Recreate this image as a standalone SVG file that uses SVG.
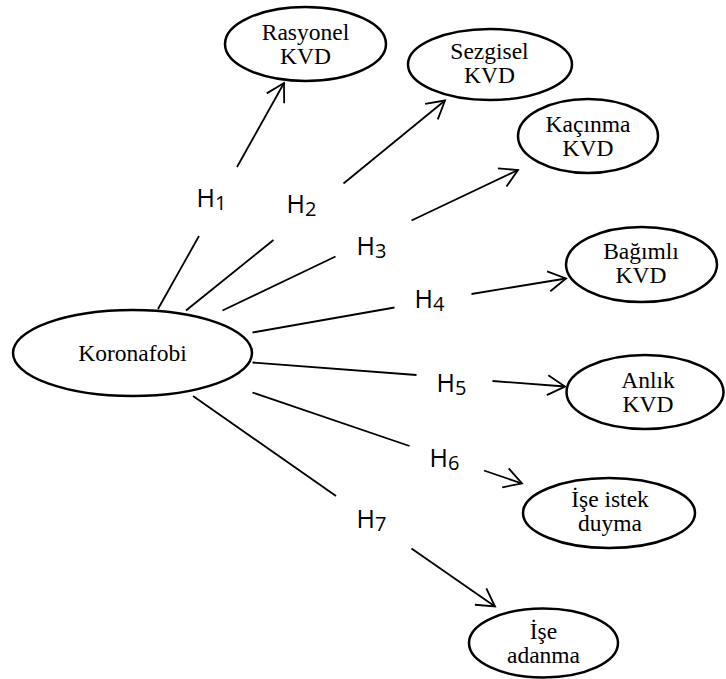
<svg xmlns="http://www.w3.org/2000/svg" width="726" height="679" viewBox="0 0 726 679">
<style>
.node ellipse{fill:#fff;stroke:#000;stroke-width:2.5}
.node text{font-family:"Liberation Serif","Times New Roman",serif;font-size:23.5px;text-anchor:middle;fill:#000}
#connectors line{stroke:#000;stroke-width:1.8;fill:none}
.lbl{font-family:"Open Sans","Liberation Sans",sans-serif;font-size:25px;fill:#000}
.lbl tspan{font-size:20px}
</style>
<defs>
<marker id="arr" markerUnits="userSpaceOnUse" viewBox="-20 -11 22 22" refX="0" refY="0" markerWidth="22" markerHeight="22" orient="auto" overflow="visible">
<path d="M-17.5,-10 L0,0 L-17.5,10" fill="none" stroke="#000" stroke-width="1.8"/>
</marker>
</defs>
<g id="connectors">
<line x1="158" y1="309" x2="199" y2="236"/>
<line x1="237" y1="167" x2="284" y2="83" marker-end="url(#arr)"/>
<line x1="186" y1="310.5" x2="273.5" y2="240"/>
<line x1="343.5" y1="183.5" x2="445" y2="100.5" marker-end="url(#arr)"/>
<line x1="222.5" y1="310.5" x2="335.5" y2="256.5"/>
<line x1="411.5" y1="220.5" x2="518" y2="170" marker-end="url(#arr)"/>
<line x1="252.5" y1="332.5" x2="394.5" y2="307.5"/>
<line x1="471.5" y1="294" x2="566" y2="278.5" marker-end="url(#arr)"/>
<line x1="252.5" y1="362.5" x2="416.5" y2="375"/>
<line x1="492.5" y1="381" x2="565" y2="386.5" marker-end="url(#arr)"/>
<line x1="252.5" y1="392.5" x2="409.5" y2="446"/>
<line x1="484" y1="470.5" x2="522" y2="483.5" marker-end="url(#arr)"/>
<line x1="193" y1="396" x2="336" y2="496"/>
<line x1="411.5" y1="548.5" x2="495" y2="606.5" marker-end="url(#arr)"/>
<text class="lbl" x="196.5" y="207">H<tspan dy="3">1</tspan></text>
<text class="lbl" x="286.5" y="212.5">H<tspan dy="3">2</tspan></text>
<text class="lbl" x="356.5" y="255">H<tspan dy="3">3</tspan></text>
<text class="lbl" x="414.5" y="308">H<tspan dy="3">4</tspan></text>
<text class="lbl" x="436.5" y="391.5">H<tspan dy="3">5</tspan></text>
<text class="lbl" x="429.5" y="466.5">H<tspan dy="3">6</tspan></text>
<text class="lbl" x="356.5" y="528">H<tspan dy="3">7</tspan></text>
</g>
<g id="koronafobi" class="node">
<ellipse cx="132.5" cy="353" rx="119.5" ry="43"/>
<text x="132.5" y="361">Koronafobi</text>
</g>
<g id="rasyonel" class="node">
<ellipse cx="305.5" cy="44" rx="80.5" ry="37"/>
<text x="305.5" y="39.5">Rasyonel</text>
<text x="305.5" y="63.5">KVD</text>
</g>
<g id="sezgisel" class="node">
<ellipse cx="490" cy="64.5" rx="82" ry="35.5"/>
<text x="489.5" y="59">Sezgisel</text>
<text x="489.5" y="83">KVD</text>
</g>
<g id="kacinma" class="node">
<ellipse cx="588" cy="136" rx="70" ry="37"/>
<text x="588" y="132">Kaçınma</text>
<text x="588" y="156">KVD</text>
</g>
<g id="bagimli" class="node">
<ellipse cx="641.5" cy="264.5" rx="75.5" ry="37.5"/>
<text x="641" y="259">Bağımlı</text>
<text x="641" y="283">KVD</text>
</g>
<g id="anlik" class="node">
<ellipse cx="645" cy="392" rx="78.5" ry="37"/>
<text x="648" y="388">Anlık</text>
<text x="648" y="412">KVD</text>
</g>
<g id="istek" class="node">
<ellipse cx="609" cy="513" rx="86" ry="35"/>
<text x="610" y="507">İşe istek</text>
<text x="610" y="531">duyma</text>
</g>
<g id="adanma" class="node">
<ellipse cx="543.5" cy="643" rx="74.5" ry="34.5"/>
<text x="543.5" y="639">İşe</text>
<text x="543.5" y="663">adanma</text>
</g>
</svg>
